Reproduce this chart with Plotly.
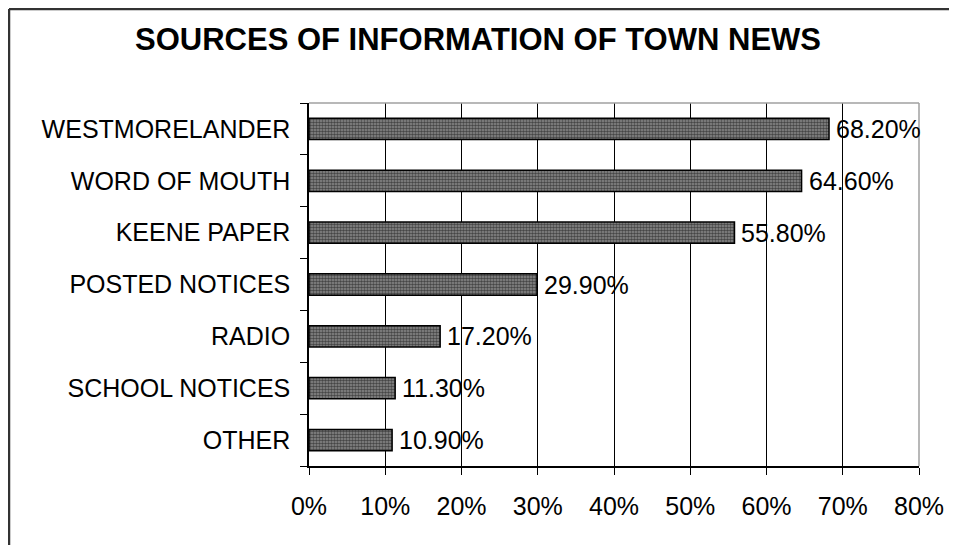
import plotly.graph_objects as go

categories = ["WESTMORELANDER", "WORD OF MOUTH", "KEENE PAPER", "POSTED NOTICES",
              "RADIO", "SCHOOL NOTICES", "OTHER"]
values = [0.682, 0.646, 0.558, 0.299, 0.172, 0.113, 0.109]
value_labels = ["68.20%", "64.60%", "55.80%", "29.90%", "17.20%", "11.30%", "10.90%"]
x_ticks = [0, 0.1, 0.2, 0.3, 0.4, 0.5, 0.6, 0.7, 0.8]
x_tick_labels = ["0%", "10%", "20%", "30%", "40%", "50%", "60%", "70%", "80%"]
title_text = "SOURCES OF INFORMATION OF TOWN NEWS"

FONT = "Liberation Sans, Arial, sans-serif"
W, H = 949, 537
ML, MR, MT, MB = 301, 38, 95, 79

fig = go.Figure()
fig.add_trace(go.Bar(
    x=values, y=categories, orientation="h",
    marker=dict(
        color="#666666",
        line=dict(color="#000000", width=1.5),
        pattern=dict(shape=".", fgcolor="#000000", bgcolor="#8c8c8c", size=3, solidity=0.55),
    ),
    hoverinfo="skip",
))

for v, c, t in zip(values, categories, value_labels):
    fig.add_annotation(x=v, y=c, text=t, showarrow=False, xanchor="left", yanchor="middle",
                       xshift=5, font=dict(family=FONT, size=25, color="#000"))

pw = W - ML - MR
ph = H - MT - MB
# outer frame (top and left edges visible)
x0 = (1 - ML) / pw
y0 = 1 + (MT - 1) / ph
fig.add_shape(type="line", xref="paper", yref="paper", x0=x0, x1=1 + (MR + 20) / pw, y0=y0, y1=y0,
              line=dict(color="#333333", width=2.5))
fig.add_shape(type="line", xref="paper", yref="paper", x0=x0, x1=x0, y0=y0, y1=-(MB + 20) / ph,
              line=dict(color="#333333", width=2.5))
# plot-area border top/right in gray
fig.add_shape(type="line", xref="paper", yref="paper", x0=0, x1=1, y0=1, y1=1,
              line=dict(color="#a0a0a0", width=1.5), layer="above")
fig.add_shape(type="line", xref="paper", yref="paper", x0=1, x1=1, y0=0, y1=1,
              line=dict(color="#a0a0a0", width=1.5), layer="above")

fig.update_layout(
    width=W, height=H,
    margin=dict(l=ML, r=MR, t=MT, b=MB),
    paper_bgcolor="white", plot_bgcolor="white",
    showlegend=False,
    bargap=0.59,
    font=dict(family=FONT, size=25, color="#000"),
    title=dict(text=title_text, x=(478 - 8) / W, xref="container", xanchor="center",
               y=1 - 31 / H, yref="container", yanchor="middle",
               font=dict(family=FONT, size=31, color="#000", weight="bold")),
    xaxis=dict(range=[0, 0.8], tickvals=x_ticks, ticktext=x_tick_labels,
               showgrid=True, gridcolor="#000000", gridwidth=1,
               showline=True, linecolor="#000000", linewidth=1.5,
               ticks="outside", ticklen=7, tickcolor="#000", tickwidth=1,
               ticklabelstandoff=10, zeroline=False,
               tickfont=dict(family=FONT, size=25, color="#000")),
    yaxis=dict(categoryorder="array", categoryarray=categories[::-1],
               showline=True, linecolor="#000000", linewidth=1.5,
               ticks="outside", ticklen=7, tickcolor="#000", tickwidth=1,
               tickson="boundaries", showgrid=False, ticklabelstandoff=12,
               tickfont=dict(family=FONT, size=25, color="#000")),
)

fig.write_html("out.html")
